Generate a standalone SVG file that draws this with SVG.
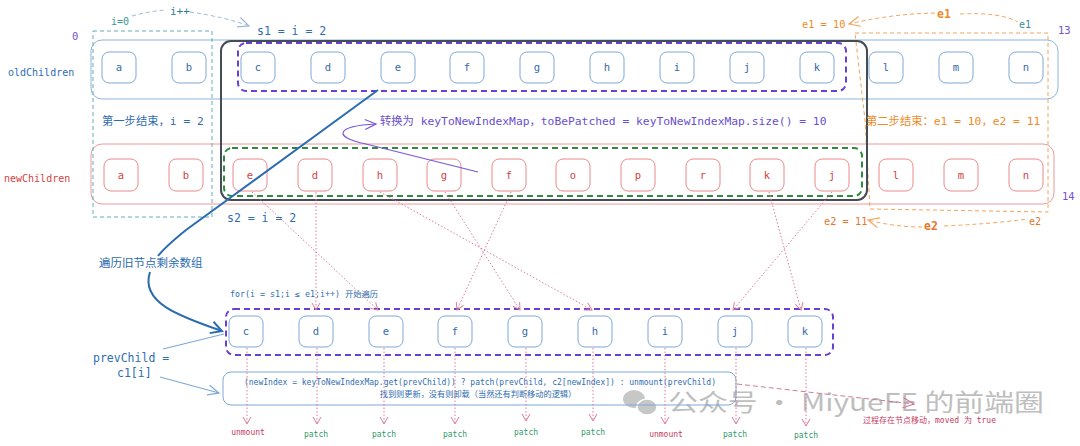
<svg xmlns="http://www.w3.org/2000/svg" width="1080" height="446" viewBox="0 0 1080 446">
<defs>
<style>
.m{font-family:"DejaVu Sans Mono","Liberation Mono","Noto Sans CJK SC",monospace}
.s{font-family:"Noto Sans CJK SC","Liberation Sans",sans-serif}
.on rect{fill:#fff;stroke:#7ea9d6;stroke-width:1}
.on text{fill:#3569a8;font-size:10.5px;text-anchor:middle}
.nn rect{fill:#fff;stroke:#ea8a8a;stroke-width:1}
.nn text{fill:#d2433f;font-size:10.5px;text-anchor:middle}
.bn rect{fill:#fff;stroke:#7ea9d6;stroke-width:1}
.bn text{fill:#3569a8;font-size:10.5px;text-anchor:middle}
.pd{fill:none;stroke:#df7b97;stroke-width:1;stroke-dasharray:1.5 2}
.pt{fill:#2f9a6a;font-size:8px;text-anchor:middle}
.um{fill:#c43a62;font-size:8px;text-anchor:middle}
</style>
<marker id="ap" markerWidth="10" markerHeight="10" refX="8" refY="5" orient="auto" markerUnits="userSpaceOnUse"><path d="M1,1 L8,5 L1,9" fill="none" stroke="#df7b97" stroke-width="1"/></marker>
<marker id="ab" markerWidth="14" markerHeight="14" refX="12" refY="7" orient="auto" markerUnits="userSpaceOnUse"><path d="M1,1 L12,7 L1,13" fill="none" stroke="#2b6cb0" stroke-width="2"/></marker>
<marker id="al" markerWidth="14" markerHeight="14" refX="12" refY="7" orient="auto" markerUnits="userSpaceOnUse"><path d="M1,2 L12,7 L1,12" fill="none" stroke="#7ea9d6" stroke-width="1.2"/></marker>
<marker id="av" markerWidth="14" markerHeight="14" refX="12" refY="7" orient="auto" markerUnits="userSpaceOnUse"><path d="M1,2 L12,7 L1,12" fill="none" stroke="#7a55d8" stroke-width="1.2"/></marker>
<marker id="ag" markerWidth="14" markerHeight="14" refX="12" refY="7" orient="auto" markerUnits="userSpaceOnUse"><path d="M1,2 L12,7 L1,12" fill="none" stroke="#9ab8d6" stroke-width="1.2"/></marker>
<marker id="ao" markerWidth="14" markerHeight="14" refX="12" refY="7" orient="auto" markerUnits="userSpaceOnUse"><path d="M1,2 L12,7 L1,12" fill="none" stroke="#f4a55a" stroke-width="1.2"/></marker>
<marker id="ar" markerWidth="14" markerHeight="14" refX="12" refY="7" orient="auto" markerUnits="userSpaceOnUse"><path d="M1,2 L12,7 L1,12" fill="none" stroke="#d27a98" stroke-width="1.2"/></marker>
</defs>
<rect width="1080" height="446" fill="#fff"/>

<!-- watermark -->
<g id="watermark" opacity="0.55">
<ellipse cx="634" cy="399" rx="11" ry="9" fill="#9a9a9a"/>
<ellipse cx="647" cy="407" rx="10" ry="8" fill="#9a9a9a" stroke="#fff" stroke-width="1.5"/>
<text x="668" y="411" class="s" font-size="24" fill="#8a8a8a" textLength="376" lengthAdjust="spacingAndGlyphs">公众号 · MiyueFE 的前端圈</text>
</g>

<!-- containers -->
<g id="containers">
<rect x="91" y="40" width="967" height="59" rx="11" fill="none" stroke="#8cb5dd" stroke-width="1"/>
<rect x="91" y="144" width="963" height="60" rx="11" fill="none" stroke="#ec9a9a" stroke-width="1"/>
<rect x="93" y="31" width="119" height="186" fill="none" stroke="#66aab8" stroke-width="1" stroke-dasharray="4 3"/>
<path d="M855,33 L1048,33 L1048,212 L870,209 L865,120 Z" fill="none" stroke="#f4a55a" stroke-width="1" stroke-dasharray="4 3"/>
<rect x="221" y="41" width="646" height="159" rx="10" fill="none" stroke="#444c56" stroke-width="2"/>
<rect x="238" y="43" width="608" height="48" rx="8" fill="none" stroke="#6a40d4" stroke-width="2" stroke-dasharray="6 4"/>
<rect x="224" y="148" width="638" height="48" rx="8" fill="none" stroke="#2e8b3e" stroke-width="2" stroke-dasharray="6 4"/>
<rect x="226" y="309" width="607" height="46" rx="8" fill="none" stroke="#6a40d4" stroke-width="2" stroke-dasharray="6 4"/>
<rect x="223" y="372" width="513" height="33" rx="8" fill="none" stroke="#7ea9d6" stroke-width="1"/>
</g>

<!-- old children -->
<g id="old-a" class="on m"><rect x="102" y="52" width="34" height="31" rx="7"/><text x="119" y="71">a</text></g>
<g id="old-b" class="on m"><rect x="172" y="52" width="34" height="31" rx="7"/><text x="189" y="71">b</text></g>
<g id="old-c" class="on m"><rect x="241" y="52" width="34" height="31" rx="7"/><text x="258" y="71">c</text></g>
<g id="old-d" class="on m"><rect x="311" y="52" width="34" height="31" rx="7"/><text x="328" y="71">d</text></g>
<g id="old-e" class="on m"><rect x="381" y="52" width="34" height="31" rx="7"/><text x="398" y="71">e</text></g>
<g id="old-f" class="on m"><rect x="450" y="52" width="34" height="31" rx="7"/><text x="467" y="71">f</text></g>
<g id="old-g" class="on m"><rect x="520" y="52" width="34" height="31" rx="7"/><text x="537" y="71">g</text></g>
<g id="old-h" class="on m"><rect x="590" y="52" width="34" height="31" rx="7"/><text x="607" y="71">h</text></g>
<g id="old-i" class="on m"><rect x="660" y="52" width="34" height="31" rx="7"/><text x="677" y="71">i</text></g>
<g id="old-j" class="on m"><rect x="730" y="52" width="34" height="31" rx="7"/><text x="747" y="71">j</text></g>
<g id="old-k" class="on m"><rect x="800" y="52" width="34" height="31" rx="7"/><text x="817" y="71">k</text></g>
<g id="old-l" class="on m"><rect x="869" y="52" width="34" height="31" rx="7"/><text x="886" y="71">l</text></g>
<g id="old-m" class="on m"><rect x="939" y="52" width="34" height="31" rx="7"/><text x="956" y="71">m</text></g>
<g id="old-n" class="on m"><rect x="1009" y="52" width="34" height="31" rx="7"/><text x="1026" y="71">n</text></g>

<!-- new children -->
<g id="new-a" class="nn m"><rect x="104" y="159" width="34" height="32" rx="7"/><text x="121" y="179">a</text></g>
<g id="new-b" class="nn m"><rect x="169" y="159" width="34" height="32" rx="7"/><text x="186" y="179">b</text></g>
<g id="new-e" class="nn m"><rect x="233" y="159" width="34" height="32" rx="7"/><text x="250" y="179">e</text></g>
<g id="new-d" class="nn m"><rect x="298" y="159" width="34" height="32" rx="7"/><text x="315" y="179">d</text></g>
<g id="new-h" class="nn m"><rect x="363" y="159" width="34" height="32" rx="7"/><text x="380" y="179">h</text></g>
<g id="new-g" class="nn m"><rect x="427" y="159" width="34" height="32" rx="7"/><text x="444" y="179">g</text></g>
<g id="new-f" class="nn m"><rect x="492" y="159" width="34" height="32" rx="7"/><text x="509" y="179">f</text></g>
<g id="new-o" class="nn m"><rect x="556" y="159" width="34" height="32" rx="7"/><text x="573" y="179">o</text></g>
<g id="new-p" class="nn m"><rect x="621" y="159" width="34" height="32" rx="7"/><text x="638" y="179">p</text></g>
<g id="new-r" class="nn m"><rect x="686" y="159" width="34" height="32" rx="7"/><text x="703" y="179">r</text></g>
<g id="new-k" class="nn m"><rect x="750" y="159" width="34" height="32" rx="7"/><text x="767" y="179">k</text></g>
<g id="new-j" class="nn m"><rect x="815" y="159" width="34" height="32" rx="7"/><text x="832" y="179">j</text></g>
<g id="new-l" class="nn m"><rect x="879" y="159" width="34" height="32" rx="7"/><text x="896" y="179">l</text></g>
<g id="new-m" class="nn m"><rect x="944" y="159" width="34" height="32" rx="7"/><text x="961" y="179">m</text></g>
<g id="new-n" class="nn m"><rect x="1009" y="159" width="34" height="32" rx="7"/><text x="1026" y="179">n</text></g>

<!-- iteration row -->
<g id="it-c" class="bn m"><rect x="229" y="316" width="34" height="31" rx="7"/><text x="246" y="335">c</text></g>
<g id="it-d" class="bn m"><rect x="299" y="316" width="34" height="31" rx="7"/><text x="316" y="335">d</text></g>
<g id="it-e" class="bn m"><rect x="369" y="316" width="34" height="31" rx="7"/><text x="386" y="335">e</text></g>
<g id="it-f" class="bn m"><rect x="438" y="316" width="34" height="31" rx="7"/><text x="455" y="335">f</text></g>
<g id="it-g" class="bn m"><rect x="508" y="316" width="34" height="31" rx="7"/><text x="525" y="335">g</text></g>
<g id="it-h" class="bn m"><rect x="578" y="316" width="34" height="31" rx="7"/><text x="595" y="335">h</text></g>
<g id="it-i" class="bn m"><rect x="648" y="316" width="34" height="31" rx="7"/><text x="665" y="335">i</text></g>
<g id="it-j" class="bn m"><rect x="718" y="316" width="34" height="31" rx="7"/><text x="735" y="335">j</text></g>
<g id="it-k" class="bn m"><rect x="788" y="316" width="34" height="31" rx="7"/><text x="805" y="335">k</text></g>

<!-- labels -->
<g id="labels">
<text x="8" y="76" class="m" font-size="10" fill="#2f6db0">oldChildren</text>
<text x="4" y="182" class="m" font-size="10" fill="#d2433f">newChildren</text>
<text x="72" y="40" class="m" font-size="10.5" fill="#7a4fd0">0</text>
<text x="1058" y="34" class="m" font-size="10.5" fill="#7a4fd0">13</text>
<text x="1062" y="200" class="m" font-size="10.5" fill="#7a4fd0">14</text>
<text x="111" y="25" class="m" font-size="10" fill="#3a9a9a">i=0</text>
<text x="170" y="15" class="m" font-size="11" fill="#3a7a9a">i++</text>
<text x="257" y="35" class="m" font-size="11.5" fill="#2f6db0">s1 = i = 2</text>
<text x="227" y="222" class="m" font-size="11.5" fill="#2f6db0">s2 = i = 2</text>
<text x="802" y="28" class="m" font-size="10.3" fill="#f08c28">e1 = 10</text>
<text x="937" y="18" class="m" font-size="11.5" font-weight="bold" fill="#f08c28">e1</text>
<text x="1019" y="28" class="m" font-size="10" fill="#3a8a9a">e1</text>
<text x="824" y="225" class="m" font-size="10.3" fill="#e8762a">e2 = 11</text>
<text x="924" y="230" class="m" font-size="11.5" font-weight="bold" fill="#e8762a">e2</text>
<text x="1029" y="225" class="m" font-size="10" fill="#e0762a">e2</text>
<text x="102" y="125" class="m" font-size="11.3" fill="#2f6db0">第一步结束，i = 2</text>
<text x="866" y="125" class="m" font-size="11.3" fill="#f08c28">第二步结束：e1 = 10，e2 = 11</text>
<text x="380" y="125" class="m" font-size="11.3" fill="#6a4fd0">转换为 keyToNewIndexMap，toBePatched = keyToNewIndexMap.size() = 10</text>
<text x="99" y="267" class="s" font-size="11.5" fill="#2b6cb0">遍历旧节点剩余数组</text>
<text x="230" y="297" class="m" font-size="8.3" fill="#2f6db0">for(i = s1;i ≤ e1;i++) 开始遍历</text>
<text x="93" y="362" class="m" font-size="11.5" fill="#2f6db0">prevChild =</text>
<text x="117" y="377" class="m" font-size="11.5" fill="#2f6db0">c1[i]</text>
<text x="480" y="385" class="m" font-size="8" fill="#2f6db0" text-anchor="middle">(newIndex = keyToNewIndexMap.get(prevChild)) ? patch(prevChild, c2[newIndex]) : unmount(prevChild)</text>
<text x="478" y="397" class="m" font-size="8.2" fill="#2f6db0" text-anchor="middle">找到则更新，没有则卸载（当然还有判断移动的逻辑）</text>
<text x="863" y="423" class="m" font-size="8" fill="#c43a62">过程存在节点移动，moved 为 true</text>
<text x="248" y="435" class="m um">unmount</text>
<text x="316" y="437" class="m pt">patch</text>
<text x="384" y="437" class="m pt">patch</text>
<text x="455" y="437" class="m pt">patch</text>
<text x="526" y="435" class="m pt">patch</text>
<text x="593" y="435" class="m pt">patch</text>
<text x="666" y="437" class="m um">unmount</text>
<text x="735" y="437" class="m pt">patch</text>
<text x="806" y="438" class="m pt">patch</text>
</g>

<!-- connectors -->
<g id="connectors">
<path d="M132,16 Q150,11 166,10" fill="none" stroke="#9ab8d6" stroke-width="1" stroke-dasharray="4 3"/>
<path d="M190,12 Q225,17 249,26" fill="none" stroke="#9ab8d6" stroke-width="1" stroke-dasharray="4 3" marker-end="url(#ag)"/>
<path d="M935,13 Q890,14 849,24" fill="none" stroke="#f4a55a" stroke-width="1" stroke-dasharray="4 3" marker-end="url(#ao)"/>
<path d="M960,14 Q1000,12 1018,22" fill="none" stroke="#f4a55a" stroke-width="1" stroke-dasharray="4 3"/>
<path d="M922,227 Q895,227 868,220" fill="none" stroke="#f4a55a" stroke-width="1" stroke-dasharray="4 3" marker-end="url(#ao)"/>
<path d="M944,226 Q990,224 1028,219" fill="none" stroke="#f4a55a" stroke-width="1" stroke-dasharray="4 3"/>
<path d="M478,172 L366,144 C332,137 336,126 376,124" fill="none" stroke="#7a55d8" stroke-width="1.2" marker-end="url(#av)"/>
<path d="M378,90 L186,230 Q165,247 158,256" fill="none" stroke="#2b6cb0" stroke-width="2"/>
<path d="M150,272 C140,302 178,316 222,331" fill="none" stroke="#2b6cb0" stroke-width="2" marker-end="url(#ab)"/>
<path d="M163,349 L224,334" fill="none" stroke="#7ea9d6" stroke-width="1.2"/>
<path d="M160,377 L219,393" fill="none" stroke="#7ea9d6" stroke-width="1.2" marker-end="url(#al)"/>
<path d="M737,384 L914,404" fill="none" stroke="#d27a98" stroke-width="1" stroke-dasharray="5 3" marker-end="url(#ar)"/>
<path class="pd" d="M252,192 L378,310" marker-end="url(#ap)"/>
<path class="pd" d="M316,192 L316,310" marker-end="url(#ap)"/>
<path class="pd" d="M380,192 L592,310" marker-end="url(#ap)"/>
<path class="pd" d="M445,192 L520,310" marker-end="url(#ap)"/>
<path class="pd" d="M511,192 L457,310" marker-end="url(#ap)"/>
<path class="pd" d="M769,192 L801,310" marker-end="url(#ap)"/>
<path class="pd" d="M832,192 L733,310" marker-end="url(#ap)"/>
<path class="pd" d="M247,348 L247,424" marker-end="url(#ap)"/>
<path class="pd" d="M317,348 L317,424" marker-end="url(#ap)"/>
<path class="pd" d="M384,348 L384,424" marker-end="url(#ap)"/>
<path class="pd" d="M455,348 L455,424" marker-end="url(#ap)"/>
<path class="pd" d="M526,348 L526,421" marker-end="url(#ap)"/>
<path class="pd" d="M593,348 L593,421" marker-end="url(#ap)"/>
<path class="pd" d="M665,348 L665,424" marker-end="url(#ap)"/>
<path class="pd" d="M736,348 L736,424" marker-end="url(#ap)"/>
<path class="pd" d="M806,348 L806,426" marker-end="url(#ap)"/>
</g>
</svg>
